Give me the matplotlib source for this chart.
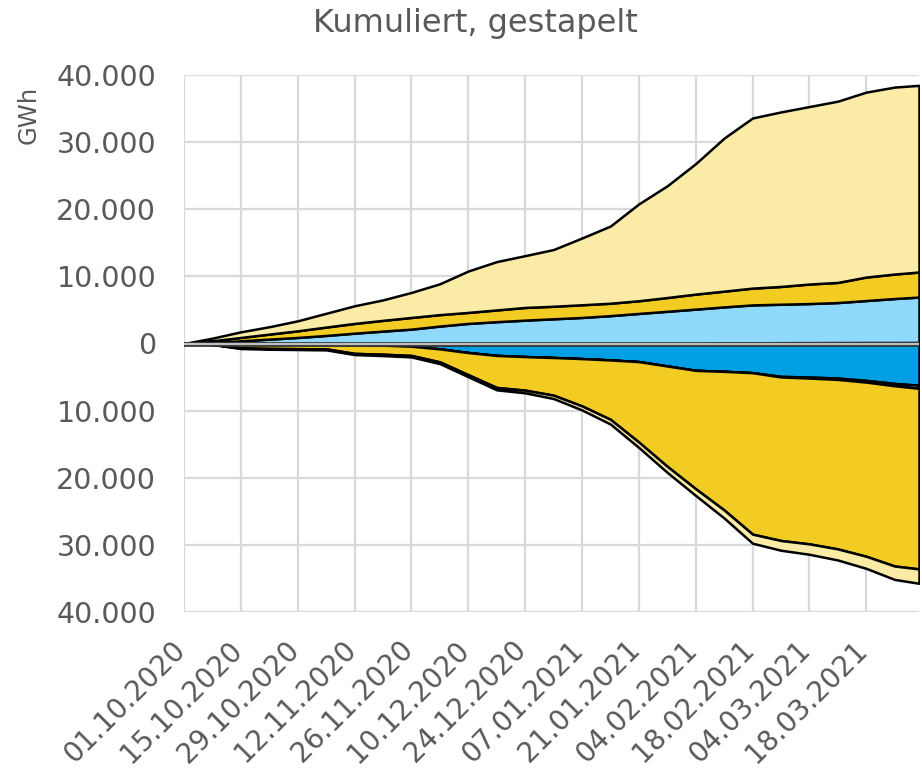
import matplotlib
matplotlib.use('Agg')
import matplotlib.pyplot as plt
import matplotlib.transforms as mtransforms
from matplotlib.ticker import FuncFormatter
import numpy as np
import pandas as pd

# sample days after 01.10.2020 (cumulative values, GWh)
days = [0, 7, 14, 21, 28, 35, 42, 49, 56, 63, 70, 77, 84, 91, 98, 105, 112,
        119, 126, 133, 140, 147, 154, 161, 168, 175, 181]

# positive side, stacked from zero upwards
blue_pos = [0, 0, 0, 0, 0, 0, 0, 0, 0, 0, 0, 0, 0, 0, 0, 0, 0, 0, 0,
            50, 100, 120, 130, 140, 150, 150, 160]
lightblue_pos = [0, 150, 400, 650, 900, 1200, 1540, 1850, 2140, 2600, 2990, 3250,
                 3480, 3680, 3880, 4150, 4480, 4800, 5120, 5400, 5650, 5730,
                 5820, 5960, 6250, 6550, 6760]
gold_pos = [0, 250, 500, 750, 990, 1250, 1450, 1600, 1740, 1700, 1640, 1750, 1890,
            1870, 1890, 1850, 1890, 2050, 2240, 2350, 2500, 2650, 2910, 3000,
            3500, 3650, 3730]
yellow_pos = [0, 400, 840, 1100, 1490, 2050, 2630, 3050, 3730, 4600, 6170, 7200,
              7720, 8450, 9950, 11500, 14430, 16650, 19440, 22800, 25350, 26000,
              26440, 27000, 27550, 27850, 27810]

# negative side, stacked from zero downwards (magnitudes)
blue_neg = [0, 30, 80, 120, 150, 180, 200, 250, 400, 800, 1350, 1780, 1950, 2090,
            2250, 2450, 2700, 3350, 4000, 4150, 4350, 4900, 5000, 5150, 5500,
            5950, 6220]
lightblue_neg = [0, 0, 0, 0, 0, 0, 0, 0, 0, 0, 0, 0, 0, 0, 0, 0, 0, 0, 0, 0, 0,
                 80, 150, 200, 250, 350, 450]
gold_neg = [0, 90, 570, 610, 620, 620, 1270, 1350, 1380, 1940, 3300, 4770, 5000,
            5610, 7050, 8850, 11990, 14950, 17640, 20650, 24050, 24370, 24700,
            25250, 25950, 26850, 26910]
yellow_neg = [0, 30, 100, 120, 130, 150, 180, 200, 220, 260, 300, 350, 400, 500,
              600, 700, 800, 900, 1000, 1200, 1350, 1450, 1550, 1650, 1800, 2000,
              2140]

start = pd.Timestamp('2020-10-01')
dates = start + pd.to_timedelta(days, unit='D')
tick_dates = pd.date_range('2020-10-01', '2021-03-18', freq='14D')

c_yellow = '#FAEBA6'
c_gold = '#F2CB23'
c_lblue = '#8FD9FD'
c_blue = '#009FE3'
txt = '#595959'
grid_c = '#D9D9D9'

fig = plt.figure(figsize=(9.22, 7.78), dpi=100)
ax = fig.add_axes([184 / 922, 1 - 612 / 778, 735 / 922, 537 / 778])

ax.stackplot(dates, blue_pos, lightblue_pos, gold_pos, yellow_pos,
             colors=[c_blue, c_lblue, c_gold, c_yellow],
             edgecolor='black', linewidth=1.8, zorder=2)
ax.stackplot(dates, -np.array(blue_neg), -np.array(lightblue_neg),
             -np.array(gold_neg), -np.array(yellow_neg),
             colors=[c_blue, c_lblue, c_gold, c_yellow],
             edgecolor='black', linewidth=1.8, zorder=2)

# zero line
ax.axhline(0, color='#333333', lw=3.4, zorder=3)
ax.axhline(0, color='#BFBFBF', lw=1.6, zorder=4)

ax.set_xlim(start, start + pd.Timedelta(days=181))
ax.set_ylim(-40000, 40000)
ax.set_yticks(np.arange(-40000, 40001, 10000))
ax.yaxis.set_major_formatter(FuncFormatter(lambda v, p: f'{abs(v):,.0f}'.replace(',', '.')))
ax.set_xticks(tick_dates)
ax.set_xticklabels([d.strftime('%d.%m.%Y') for d in tick_dates])

ax.grid(True, color=grid_c, lw=1.6, zorder=0)
ax.set_axisbelow(True)
for s in ax.spines.values():
    s.set_visible(False)

ax.tick_params(axis='both', length=0, colors=txt, labelsize=20.5)
ax.tick_params(axis='y', pad=20)
ax.tick_params(axis='x', pad=24)
offset = mtransforms.ScaledTranslation(-3 / 100, 0, fig.dpi_scale_trans)
for lab in ax.get_xticklabels():
    lab.set_rotation(45)
    lab.set_ha('right')
    lab.set_va('center')
    lab.set_rotation_mode('anchor')
    lab.set_fontsize(20)
    lab.set_transform(lab.get_transform() + offset)

fig.text(475 / 922, 1 - 32 / 778, 'Kumuliert, gestapelt', ha='center',
         va='baseline', fontsize=23, color=txt)
fig.text(29 / 922, 1 - 115 / 778, 'GWh', rotation=90, ha='center', va='center',
         fontsize=17.5, color=txt)

fig.savefig('out.png', dpi=100)
